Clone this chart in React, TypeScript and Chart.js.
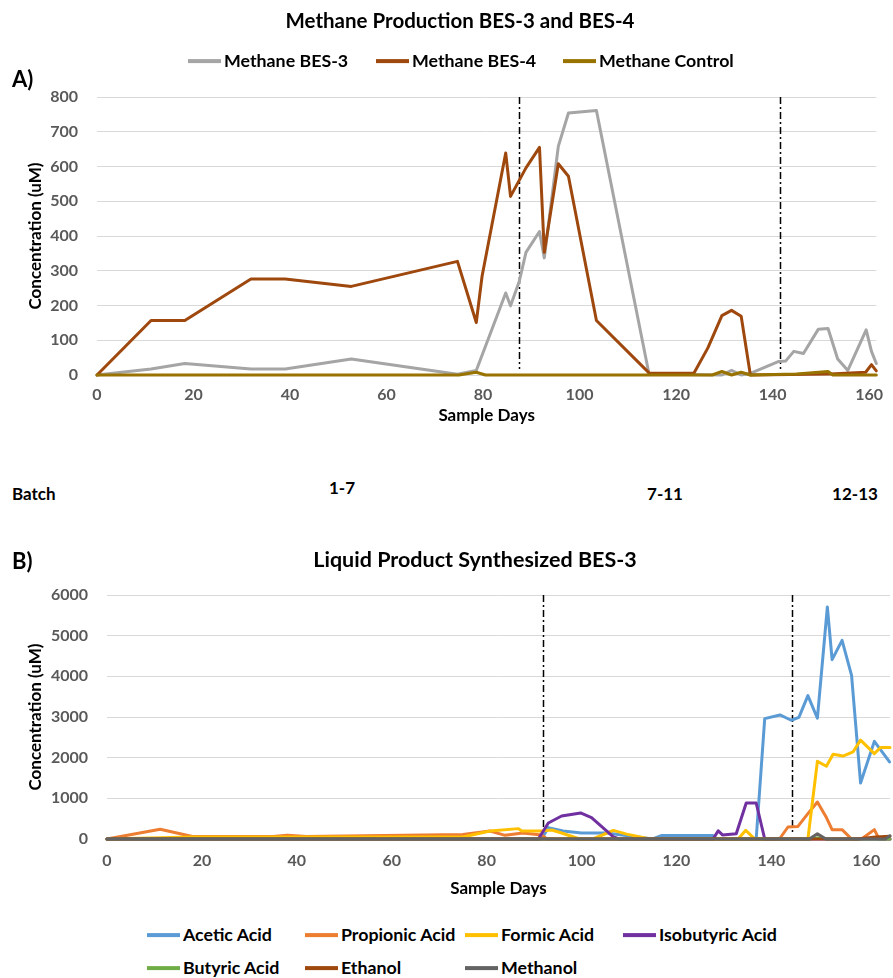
import React, { useEffect, useRef } from "react";
import { Chart, registerables } from "chart.js";

Chart.register(...registerables);

const FONT = "Lato, 'Noto Sans', sans-serif";

// ---------- Panel A: methane (uM) by sample day ----------
const bes3Days = [0, 11.2, 18.2, 31.9, 39, 52.7, 74.7, 78.6, 84.7, 85.7, 87.5, 88.9, 91.7, 92.7, 95.6, 97.7, 103.5, 114.4, 129.5, 131.5, 133.5, 135.4, 141.3, 142.7, 144.4, 146.4, 149.5, 151.5, 153.5, 155.6, 159.4, 160.5, 161.5];
const bes3Methane = [0, 17, 33, 17, 17, 46, 2, 13, 236, 199, 269, 353, 413, 337, 658, 754, 761, 3, 0, 13, 0, 5, 39, 40, 68, 62, 132, 134, 46, 13, 130, 68, 33];

const bes4Days = [0, 11.2, 18.2, 31.9, 39, 52.7, 74.7, 78.6, 79.8, 84.7, 85.7, 88.9, 91.7, 92.7, 95.6, 97.7, 103.5, 114.4, 123.7, 126.6, 129.5, 131.5, 133.5, 135.4, 152, 159.3, 160.5, 161.5];
const bes4Methane = [0, 157, 157, 276, 276, 255, 327, 151, 284, 639, 514, 596, 655, 353, 608, 572, 157, 6, 5, 78, 171, 186, 169, 0, 3, 8, 30, 12];

const controlDays = [0, 75, 78.6, 80.5, 114.4, 127.5, 129.5, 131.5, 133.5, 135.4, 145, 151.5, 152.5, 161.5];
const controlMethane = [0, 0, 8, 0, 0, 0, 10, 0, 8, 0, 3, 10, 0, 0];

const methaneNames = ["Methane BES-3", "Methane BES-4", "Methane Control"];
const methaneColors = ["#A5A5A5", "#9E480E", "#997300"];
const methaneBatchDays = [87.5, 141.5];
const methaneDayMax = 161.5;
const methaneMax = 800;
const methaneStep = 100;

// ---------- Panel B: liquid products (uM) by sample day ----------
const aceticDays = [0, 91.6, 93, 96.1, 100, 105.3, 115, 116.8, 127.7, 128.5, 136.8, 138.6, 141.8, 144.2, 145.8, 147.7, 149.7, 151.8, 152.8, 154.9, 156.9, 158.8, 161.7, 164.9];
const aceticValues = [0, 0, 280, 197, 148, 148, 0, 83, 83, 0, 0, 2960, 3050, 2920, 2990, 3525, 2970, 5705, 4410, 4885, 4025, 1377, 2400, 1895];

const propionicDays = [0, 11.2, 18, 35, 38, 42, 75, 80.7, 83.9, 87.6, 91.6, 92.7, 141.7, 143.5, 145.6, 147.7, 149.7, 151.6, 152.8, 154.9, 156.9, 159, 161.7, 162.7, 165];
const propionicValues = [0, 240, 60, 60, 90, 60, 110, 197, 90, 150, 100, 0, 0, 295, 310, 625, 910, 526, 230, 230, 0, 0, 230, 0, 0];

const formicDays = [0, 18, 75, 80.7, 86.7, 87.4, 91.6, 93.7, 95.8, 99.6, 102.4, 106.7, 109.5, 114.4, 133, 134.6, 136.5, 147.7, 149.7, 151.6, 153, 155.1, 157.2, 158.8, 161.7, 163, 165];
const formicValues = [0, 50, 50, 197, 255, 197, 197, 220, 148, 0, 0, 212, 120, 0, 0, 214, 0, 0, 1910, 1790, 2085, 2040, 2140, 2430, 2100, 2250, 2250];

const isobutyricDays = [0, 90.9, 93, 95.8, 99.8, 102.1, 106.7, 108, 127.7, 128.8, 129.7, 132.6, 134.7, 136.8, 138.6, 165];
const isobutyricValues = [0, 0, 393, 566, 640, 526, 50, 0, 0, 200, 100, 130, 885, 885, 0, 0];

const butyricDays = [0, 148, 150, 152, 165];
const butyricValues = [0, 0, 30, 0, 0];

const ethanolDays = [0, 158, 162, 165];
const ethanolValues = [0, 0, 50, 70];

const methanolDays = [0, 148, 149.7, 151.5, 164, 165];
const methanolValues = [0, 0, 130, 0, 0, 80];

const productNames = ["Acetic Acid", "Propionic Acid", "Formic Acid", "Isobutyric Acid", "Butyric Acid", "Ethanol", "Methanol"];
const productColors = ["#5B9BD5", "#ED7D31", "#FFC000", "#7030A0", "#70AD47", "#9E480E", "#636363"];
const productBatchDays = [91.8, 144.4];
const productDayMax = 165;
const productMax = 6000;
const productStep = 1000;

// Batch numbering shown between the panels
const batchLabels = ["1-7", "7-11", "12-13"];

const zip = (xs: number[], ys: number[]) => xs.map((x, i) => ({ x, y: ys[i] }));

// Dash-dot separators between batch groups
const batchLinesPlugin = (days: number[]) => ({
  id: "batchLines",
  beforeDatasetsDraw(chart: any) {
    const { ctx, chartArea, scales } = chart;
    ctx.save();
    ctx.strokeStyle = "#000";
    ctx.lineWidth = 1.5;
    ctx.setLineDash([7, 3, 2, 3]);
    days.forEach((d) => {
      const x = Math.round(scales.x.getPixelForValue(d)) + 0.5;
      ctx.beginPath();
      ctx.moveTo(x, chartArea.top);
      ctx.lineTo(x, chartArea.bottom - 6);
      ctx.stroke();
    });
    ctx.restore();
  },
});

type Series = { label: string; color: string; points: { x: number; y: number }[] };

type PanelProps = {
  top: number;
  width: number;
  height: number;
  series: Series[];
  xMax: number;
  yMax: number;
  yStep: number;
  markers: number[];
  padTop: number;
  padRight: number;
  yAxisWidth: number;
  xAxisHeight: number;
  xTickPad: number;
  xTitlePad: number;
};

function Panel(p: PanelProps) {
  const ref = useRef<HTMLCanvasElement | null>(null);
  useEffect(() => {
    if (!ref.current) return;
    const n = p.series.length;
    const tickFont = { family: FONT, size: 16, weight: "bold" as const };
    const titleFont = { family: FONT, size: 17, weight: "bold" as const };
    const chart = new Chart(ref.current, {
      type: "line",
      data: {
        datasets: p.series.map((s, i) => ({
          label: s.label,
          data: s.points,
          borderColor: s.color,
          backgroundColor: s.color,
          borderWidth: 3,
          pointRadius: 0,
          tension: 0,
          fill: false,
          clip: false,
          borderJoinStyle: "round" as const,
          borderCapStyle: "round" as const,
          order: n - i,
        })),
      },
      options: {
        animation: false,
        responsive: false,
        devicePixelRatio: 1,
        layout: { padding: { top: p.padTop, right: p.padRight, left: 0, bottom: 0 } },
        plugins: {
          legend: { display: false },
          title: { display: false },
          tooltip: { enabled: false },
        },
        scales: {
          x: {
            type: "linear",
            min: 0,
            max: p.xMax,
            grid: { display: false, drawTicks: false },
            border: { display: false },
            ticks: {
              stepSize: 20,
              includeBounds: false,
              padding: p.xTickPad,
              color: "#595959",
              font: tickFont,
              maxRotation: 0,
              callback: (v: any) => String(v),
            },
            title: {
              display: true,
              text: "Sample Days",
              color: "#000",
              font: titleFont,
              padding: { top: 0, bottom: p.xTitlePad },
            },
            afterFit: (s: any) => {
              s.height = p.xAxisHeight;
            },
          },
          y: {
            type: "linear",
            min: 0,
            max: p.yMax,
            grid: { color: "#D9D9D9", lineWidth: 1, drawTicks: false },
            border: { display: false },
            ticks: {
              stepSize: p.yStep,
              padding: 19,
              color: "#595959",
              font: tickFont,
              callback: (v: any) => String(v),
            },
            title: {
              display: true,
              text: "Concentration (uM)",
              color: "#000",
              font: titleFont,
              padding: { top: 25, bottom: 0 },
            },
            afterFit: (s: any) => {
              s.width = p.yAxisWidth;
            },
          },
        },
      },
      plugins: [batchLinesPlugin(p.markers)],
    });
    return () => chart.destroy();
  }, []);
  return (
    <canvas
      ref={ref}
      width={p.width}
      height={p.height}
      style={{ position: "absolute", left: 0, top: p.top, width: p.width, height: p.height }}
    />
  );
}

const textBase: React.CSSProperties = {
  position: "absolute",
  fontFamily: FONT,
  fontWeight: 700,
  color: "#000",
  whiteSpace: "nowrap",
  lineHeight: 1,
};

function Centered({ x, y, size, children }: { x: number; y: number; size: number; children: React.ReactNode }) {
  return (
    <div style={{ ...textBase, left: x, top: y, fontSize: size, transform: "translate(-50%, -50%)" }}>{children}</div>
  );
}

function LeftText({ x, y, size, children }: { x: number; y: number; size: number; children: React.ReactNode }) {
  return (
    <div style={{ ...textBase, left: x, top: y, fontSize: size, transform: "translateY(-50%)" }}>{children}</div>
  );
}

function LegendItem({ x, y, color, label }: { x: number; y: number; color: string; label: string }) {
  return (
    <div style={{ ...textBase, left: x, top: y, fontSize: 17.8, transform: "translateY(-50%)", display: "flex", alignItems: "center" }}>
      <span style={{ display: "inline-block", width: 33, height: 4, background: color, marginRight: 3 }} />
      <span>{label}</span>
    </div>
  );
}

export default function App() {
  const methaneSeries: Series[] = [
    { label: methaneNames[0], color: methaneColors[0], points: zip(bes3Days, bes3Methane) },
    { label: methaneNames[1], color: methaneColors[1], points: zip(bes4Days, bes4Methane) },
    { label: methaneNames[2], color: methaneColors[2], points: zip(controlDays, controlMethane) },
  ];
  const productPoints = [
    zip(aceticDays, aceticValues),
    zip(propionicDays, propionicValues),
    zip(formicDays, formicValues),
    zip(isobutyricDays, isobutyricValues),
    zip(butyricDays, butyricValues),
    zip(ethanolDays, ethanolValues),
    zip(methanolDays, methanolValues),
  ];
  const productSeries: Series[] = productNames.map((label, i) => ({
    label,
    color: productColors[i],
    points: productPoints[i],
  }));

  const topLegendX = [188, 376, 563];
  const bottomLegendX = [147, 305, 465, 623];

  return (
    <div style={{ position: "fixed", left: 0, top: 0, width: 893, height: 978, background: "#fff", overflow: "hidden" }}>
      <Panel
        top={0}
        width={893}
        height={430}
        series={methaneSeries}
        xMax={methaneDayMax}
        yMax={methaneMax}
        yStep={methaneStep}
        markers={methaneBatchDays}
        padTop={97}
        padRight={2}
        yAxisWidth={97}
        xAxisHeight={55}
        xTickPad={10}
        xTitlePad={4}
      />
      <Panel
        top={540}
        width={893}
        height={360}
        series={productSeries}
        xMax={productDayMax}
        yMax={productMax}
        yStep={productStep}
        markers={productBatchDays}
        padTop={55}
        padRight={3}
        yAxisWidth={107}
        xAxisHeight={61}
        xTickPad={12}
        xTitlePad={1}
      />

      <Centered x={460} y={20} size={20.5}>Methane Production BES-3 and BES-4</Centered>
      {methaneSeries.map((s, i) => (
        <LegendItem key={s.label} x={topLegendX[i]} y={61} color={s.color} label={s.label} />
      ))}
      <LeftText x={12} y={79} size={22}>A)</LeftText>

      <LeftText x={12} y={493} size={17}>Batch</LeftText>
      <Centered x={342} y={487} size={17}>{batchLabels[0]}</Centered>
      <Centered x={665} y={493} size={17}>{batchLabels[1]}</Centered>
      <Centered x={855} y={493} size={17}>{batchLabels[2]}</Centered>

      <LeftText x={12} y={561} size={22}>B)</LeftText>
      <Centered x={475} y={560} size={21.5}>Liquid Product Synthesized BES-3</Centered>

      {productSeries.map((s, i) => (
        <LegendItem
          key={s.label}
          x={bottomLegendX[i % 4]}
          y={i < 4 ? 935 : 968}
          color={s.color}
          label={s.label}
        />
      ))}
    </div>
  );
}
